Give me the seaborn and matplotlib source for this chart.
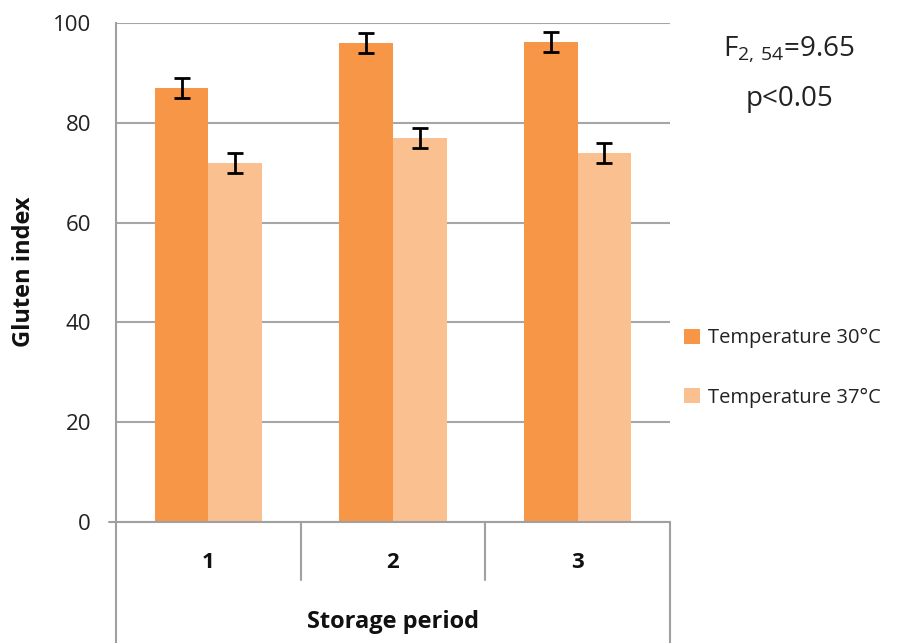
import matplotlib
matplotlib.use("Agg")
import matplotlib.pyplot as plt
import matplotlib.transforms as mtransforms
from matplotlib.patches import Patch
import seaborn as sns
import pandas as pd

# ---- data ----
periods = ["1", "2", "3"]
temp30 = [87, 96, 96.2]
temp37 = [72, 77, 74]
err30 = [2, 2, 2]
err37 = [2, 2, 2]
series_names = ["Temperature 30°C", "Temperature 37°C"]
colors = ["#F79646", "#FAC090"]
y_ticks = [0, 20, 40, 60, 80, 100]

sns.set_style("white")
plt.rcParams["font.family"] = ["Open Sans", "DejaVu Sans"]

df = pd.DataFrame({
    "period": periods * 2,
    "value": temp30 + temp37,
    "err": err30 + err37,
    "series": [series_names[0]] * 3 + [series_names[1]] * 3,
})

fig = plt.figure(figsize=(9.21, 6.43), dpi=100)
ax = fig.add_axes([116 / 921, 1 - 522 / 643, (670 - 116) / 921, (522 - 23) / 643])

sns.barplot(data=df, x="period", y="value", hue="series", order=periods,
            hue_order=series_names, palette=colors, width=0.58,
            errorbar=None, saturation=1, ax=ax, legend=False, linewidth=0)

# error bars from bar patch positions
for cont, errs in zip(ax.containers, [err30, err37]):
    for bar, e in zip(cont, errs):
        xc = bar.get_x() + bar.get_width() / 2
        ax.errorbar(xc, bar.get_height(), yerr=e, color="black", capsize=6,
                    capthick=2, elinewidth=2, zorder=5)

ax.set_ylim(0, 100)
ax.set_xlim(-0.5, 2.5)
ax.set_yticks(y_ticks)
ax.set_yticklabels([str(t) for t in y_ticks], fontsize=16, color="#222222")
ax.tick_params(axis="y", length=8, width=1.3, color="#a0a0a0", pad=10)
ax.yaxis.grid(True, color="#a6a6a6", linewidth=1.5)
ax.set_axisbelow(True)
for s in ["top", "right"]:
    ax.spines[s].set_visible(False)
ax.spines["left"].set_color("#a0a0a0")
ax.spines["left"].set_linewidth(1.5)
ax.spines["bottom"].set_visible(False)
ax.set_ylabel("")

# x axis: multi-level category style
ax.set_xticks([])
ax.set_xlabel("")
trans = mtransforms.blended_transform_factory(ax.transData, ax.transAxes)
line_kw = dict(color="#a0a0a0", linewidth=1.5, clip_on=False, transform=trans)
ax.plot([-0.54, 2.5], [0, 0], **line_kw)
bottom_axes = -(643 - 522) / (522 - 23)
inner_axes = -(580 - 522) / (522 - 23)
ax.plot([-0.5, -0.5], [0, bottom_axes], **line_kw)
ax.plot([2.5, 2.5], [0, bottom_axes], **line_kw)
ax.plot([0.5, 0.5], [0, inner_axes], **line_kw)
ax.plot([1.5, 1.5], [0, inner_axes], **line_kw)
for i, p in enumerate(periods):
    ax.text(i, -(562 - 522) / (522 - 23), p, transform=trans, ha="center",
            va="center", fontsize=16, fontweight="bold", color="#111111")
ax.text(1, -(622 - 522) / (522 - 23), "Storage period", transform=trans,
        ha="center", va="center", fontsize=17, fontweight="bold", color="#111111")

fig.text(24 / 921, 1 - 272 / 643, "Gluten index", rotation=90, ha="center",
         va="center", fontsize=17, fontweight="bold", color="#111111")

# annotation
fig.text(789 / 921, 1 - 50 / 643, r"F$_\mathregular{2,\,54}$=9.65", ha="center",
         va="center", fontsize=20, color="#222222")
fig.text(789 / 921, 1 - 99 / 643, "p<0.05", ha="center", va="center",
         fontsize=20, color="#222222")

handles = [Patch(facecolor=c, edgecolor="none") for c in colors]
fig.legend(handles, series_names, loc="center left",
           bbox_to_anchor=(666 / 921, 1 - 368 / 643), frameon=False,
           fontsize=14.5, handlelength=0.8, handleheight=0.8, handletextpad=0.4,
           labelspacing=1.95, labelcolor="#222222")

fig.savefig("out.png", dpi=100)
